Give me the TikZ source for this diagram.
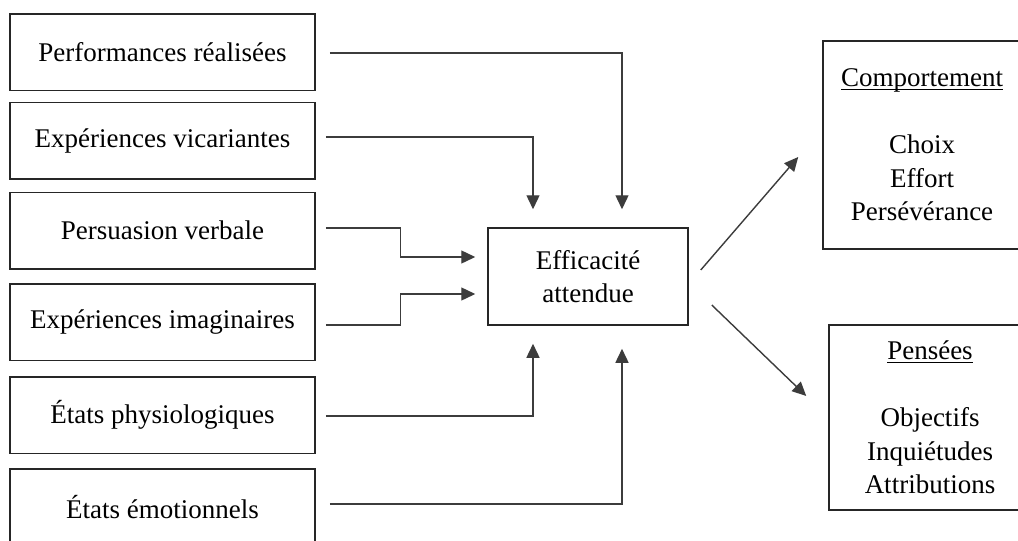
\documentclass[tikz,border=0pt]{standalone}
\usepackage{fontspec}
\setmainfont{Liberation Serif}
\usetikzlibrary{arrows.meta,calc}
\definecolor{boxline}{HTML}{262626}
\definecolor{arrowline}{HTML}{3C3C3C}
% heading with a fixed underline placed just below the baseline
\newcommand{\hdrline}[1]{\setbox0\hbox{#1}\rlap{\rule[-3.5pt]{\wd0}{1.2pt}}\box0}
\begin{document}
\begin{tikzpicture}[x=1pt,y=-1pt,
  box/.style={draw=boxline,line width=1.5pt,inner sep=0pt,align=center,
    font=\fontsize{27}{33.5}\selectfont},
  lbox/.style={box,minimum width=305pt,minimum height=76.5pt},
  link/.style={draw=arrowline,line width=1.4pt,
    -{Triangle[length=14pt,width=13pt]}}]
\useasboundingbox (0,0) rectangle (1018,541);
\clip (0,0) rectangle (1018,541);

% sources of self-efficacy
\node[lbox] (p1) at (162.5,52)    {Performances réalisées};
\node[lbox] (p2) at (162.5,140.5) {Expériences vicariantes};
\node[lbox] (p3) at (162.5,230.5) {Persuasion verbale};
\node[lbox] (p4) at (162.5,322)   {Expériences imaginaires};
\node[lbox] (p5) at (162.5,415)   {États physiologiques};
\node[lbox] (p6) at (162.5,507)   {États émotionnels};

% central node
\node[box,minimum width=200pt,minimum height=97pt] (e) at (588,276.5)
  {Efficacité\\attendue};

% outcomes
\node[box,minimum width=198pt,minimum height=208pt] (c) at (922,145)
  {\hdrline{Comportement}\\[33.5pt]Choix\\Effort\\Persévérance};
\node[box,minimum width=202pt,minimum height=185pt] (t) at (930,417.5)
  {\hdrline{Pensées}\\[33.5pt]Objectifs\\Inquiétudes\\Attributions};

% arrow end points around the central node
\coordinate (inA) at ($(e.north)+(34,-18)$);
\coordinate (inB) at ($(e.north)+(-55,-18)$);
\coordinate (inC) at ($(e.west)+(-12,-19.5)$);
\coordinate (inD) at ($(e.west)+(-12,17.5)$);
\coordinate (inE) at ($(e.south)+(-55,18)$);
\coordinate (inF) at ($(e.south)+(34,23)$);

\draw[link] ($(p1.east)+(14,1)$) -| (inA);
\draw[link] ($(p2.east)+(10,-3.5)$) -| (inB);
\draw[link] ($(p3.east)+(10,-2.5)$) -- ++(75,0) |- (inC);
\draw[link] ($(p4.east)+(10,3)$) -- ++(75,0) |- (inD);
\draw[link] ($(p5.east)+(10,1)$) -| (inE);
\draw[link] ($(p6.east)+(14,-3)$) -| (inF);

% outgoing arrows
\draw[link] ($(e.east)+(12,-6.5)$) -- ($(c.west)+(-24,12)$);
\draw[link] ($(e.east)+(23,28.5)$) -- ($(t.west)+(-22,-21.5)$);
\end{tikzpicture}
\end{document}
